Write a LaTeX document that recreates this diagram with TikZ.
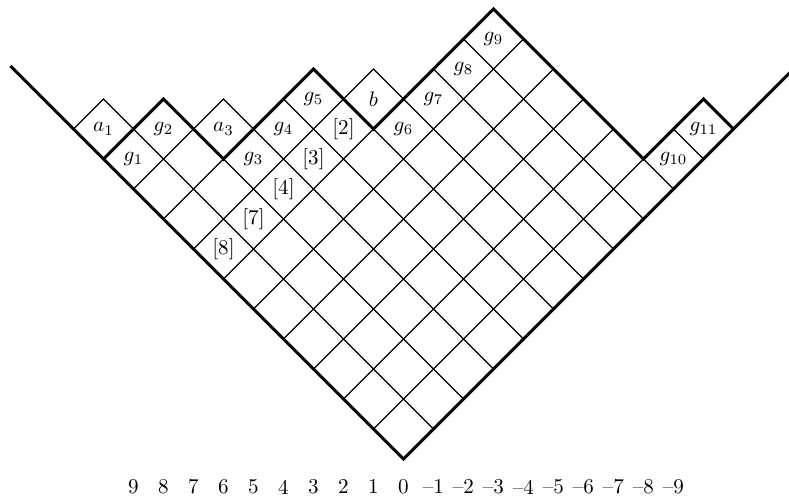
\documentclass[tikz,border=0pt]{standalone}
\begin{document}
\begin{tikzpicture}[x=0.5cm,y=0.5cm,
  thinline/.style={line width=0.6pt},
  thickline/.style={line width=1.4pt,line join=miter},
  lbl/.style={inner sep=0pt,anchor=center}]
\useasboundingbox (-13.45,-1.33) rectangle (12.85,15.3);
% grid inside the partition
\begin{scope}
  \clip (0,0) -- (-10,10) -- (-8,12) -- (-6,10) -- (-3,13) -- (-1,11) -- (3,15) -- (8,10) -- (10,12) -- (11,11) -- cycle;
  \foreach \c in {2,4,...,30} {
    \draw[thinline] (-16,\c+16) -- (16,\c-16);
    \draw[thinline] (-16,\c-16) -- (16,\c+16);
  }
\end{scope}
% addable boxes
\draw[thinline] (-10,10) -- (-11,11) -- (-10,12) -- (-9,11) -- cycle;
\draw[thinline] (-6,10) -- (-7,11) -- (-6,12) -- (-5,11) -- cycle;
\draw[thinline] (-1,11) -- (-2,12) -- (-1,13) -- (0,12) -- cycle;
% thick outline
\draw[thickline] (-13.1,13.1) -- (0,0) -- (13.1,13.1);
\draw[thickline] (-10,10) -- (-8,12) -- (-6,10) -- (-3,13) -- (-1,11) -- (3,15) -- (8,10) -- (10,12) -- (11,11);
% labels
\node[lbl] (a1) at (-10,11) {$a_{1}$};
\node[lbl] (g1) at (-9,10) {$g_{1}$};
\node[lbl] (g2) at (-8,11) {$g_{2}$};
\node[lbl] (a3) at (-6,11) {$a_{3}$};
\node[lbl] (g3) at (-5,10) {$g_{3}$};
\node[lbl] (g4) at (-4,11) {$g_{4}$};
\node[lbl] (g5) at (-3,12) {$g_{5}$};
\node[lbl] (b) at (-1,12) {$b$};
\node[lbl] (l2) at (-2,11) {[2]};
\node[lbl] (l3) at (-3,10) {[3]};
\node[lbl] (l4) at (-4,9) {[4]};
\node[lbl] (l7) at (-5,8) {[7]};
\node[lbl] (l8) at (-6,7) {[8]};
\node[lbl] (g6) at (0,11) {$g_{6}$};
\node[lbl] (g7) at (1,12) {$g_{7}$};
\node[lbl] (g8) at (2,13) {$g_{8}$};
\node[lbl] (g9) at (3,14) {$g_{9}$};
\node[lbl] (g10) at (9,10) {$g_{10}$};
\node[lbl] (g11) at (10,11) {$g_{11}$};
% axis numbers
\foreach \n in {1,...,9} {
  \node[lbl] (p\n) at (-\n,-0.93) {\n};
  \node[lbl] (m\n) at (\n,-0.93) {\textendash\n};
}
\node[lbl] (z0) at (0,-0.93) {0};
\end{tikzpicture}
\end{document}
